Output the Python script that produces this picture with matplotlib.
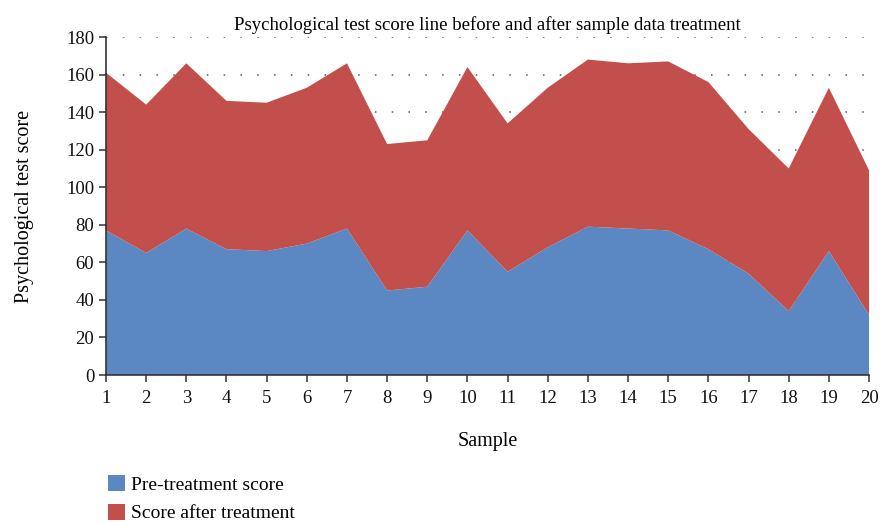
import matplotlib.pyplot as plt
from matplotlib.patches import Patch

plt.rcParams['font.family'] = ['Liberation Serif', 'DejaVu Serif']

samples = list(range(1, 21))
pre_score = [77, 65, 78, 67, 66, 70, 78, 45, 47, 77,
             55, 68, 79, 78, 77, 67, 54, 34, 66, 32]
after_score = [84, 79, 88, 79, 79, 83, 88, 78, 78, 87,
               79, 85, 89, 88, 90, 89, 77, 76, 87, 77]
series_names = ['Pre-treatment score', 'Score after treatment']
colors = ['#5B87C2', '#C24F4C']

fig = plt.figure(figsize=(8.82, 5.22), dpi=100)
ax = fig.add_axes([0.1202, 0.2816, 0.8651, 0.6475])

ax.stackplot(samples, pre_score, after_score, colors=colors, linewidth=0, zorder=2)

ax.set_xlim(1, 20)
ax.set_ylim(0, 180)
ax.set_xticks(samples)
ax.set_yticks(range(0, 181, 20))
ax.yaxis.grid(True, linestyle=(0, (1, 10)), color='#555555', linewidth=1.1, zorder=0)
ax.set_axisbelow(True)

for s in ['top', 'right']:
    ax.spines[s].set_visible(False)
for s in ['left', 'bottom']:
    ax.spines[s].set_color('#333333')
    ax.spines[s].set_linewidth(1.2)
ax.tick_params(direction='out', length=5, width=1.1, color='#333333',
               labelsize=13.5, labelcolor='#111111')
ax.tick_params(axis='x', pad=6)

ax.set_title('Psychological test score line before and after sample data treatment',
             fontsize=13.5, pad=5)
ax.set_xlabel('Sample', fontsize=14.5, labelpad=18)
ax.set_ylabel('Psychological test score', fontsize=14.5, labelpad=23)

handles = [Patch(facecolor=c, edgecolor='none') for c in colors]
fig.legend(handles, series_names, loc='upper left', bbox_to_anchor=(0.122, 0.09),
           frameon=False, fontsize=14, handlelength=0.9, handleheight=0.9,
           handletextpad=0.3, labelspacing=0.5, borderaxespad=0, borderpad=0)

fig.savefig('out.png', dpi=100)
